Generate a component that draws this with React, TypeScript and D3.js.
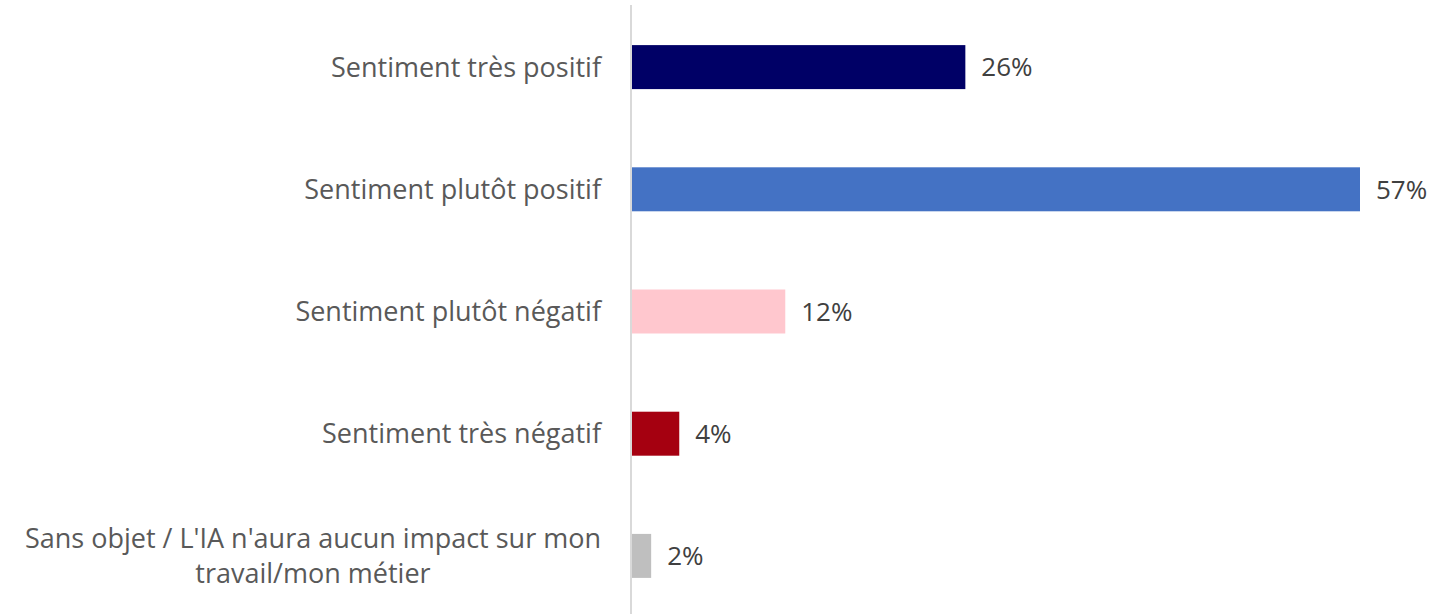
import { useEffect, useRef } from 'react'
import * as d3 from 'd3'

const categories = [
  ['Sentiment très positif'],
  ['Sentiment plutôt positif'],
  ['Sentiment plutôt négatif'],
  ['Sentiment très négatif'],
  ["Sans objet / L'IA n'aura aucun impact sur mon", 'travail/mon métier'],
]
// shares (labels are rounded)
const values = [26.1, 57, 12, 3.7, 1.5]
const colors = ['#000066', '#4472C4', '#FFC7CE', '#A50010', '#BFBFBF']

const width = 1443
const height = 614
const font = '"Open Sans", sans-serif'

const App = () => {
  const ref = useRef<SVGSVGElement>(null)

  useEffect(() => {
    if (!ref.current) return
    const svg = d3.select(ref.current)
    svg.selectAll('*').remove()

    const x0 = 632
    const xScale = d3.scaleLinear().domain([0, 57]).range([x0, 1360])
    const yScale = d3.scaleBand<number>()
      .domain(d3.range(values.length))
      .range([6, 617])
      .paddingInner(0.64)
      .paddingOuter(0.32)

    // vertical axis line
    svg.append('line')
      .attr('x1', 631).attr('x2', 631)
      .attr('y1', 5).attr('y2', height)
      .attr('stroke', '#d9d9d9')
      .attr('stroke-width', 2)

    svg.selectAll('rect.bar')
      .data(values).enter().append('rect')
      .attr('class', 'bar')
      .attr('x', x0)
      .attr('y', (d, i) => yScale(i)!)
      .attr('width', d => xScale(d) - x0)
      .attr('height', yScale.bandwidth())
      .attr('fill', (d, i) => colors[i])

    svg.selectAll('text.val')
      .data(values).enter().append('text')
      .attr('class', 'val')
      .attr('x', d => xScale(d) + 16)
      .attr('y', (d, i) => yScale(i)! + yScale.bandwidth() / 2)
      .attr('dy', '0.36em')
      .style('font-family', font)
      .style('font-size', '26px')
      .style('fill', '#404040')
      .text(d => d3.format('.0f')(d) + '%')

    const lineH = 35
    categories.forEach((lines, i) => {
      const cy = yScale(i)! + yScale.bandwidth() / 2
      const t = svg.append('text')
        .style('font-family', font)
        .style('font-size', '27px')
        .style('fill', '#595959')
      lines.forEach((l, j) => {
        t.append('tspan')
          .attr('y', cy + (j - (lines.length - 1) / 2) * lineH)
          .attr('dy', '0.36em')
          .text(l)
      })
      const tspans = t.selectAll<SVGTSpanElement, unknown>('tspan').nodes()
      const maxW = d3.max(tspans, n => n.getComputedTextLength()) || 0
      const right = 601
      if (lines.length === 1) {
        t.attr('text-anchor', 'end')
        t.selectAll('tspan').attr('x', right)
      } else {
        t.attr('text-anchor', 'middle')
        t.selectAll('tspan').attr('x', right - maxW / 2)
      }
    })
  }, [])

  return (
    <svg
      ref={ref}
      width={width}
      height={height}
      style={{ position: 'absolute', left: 0, top: 0 }}
    />
  )
}

export default App
